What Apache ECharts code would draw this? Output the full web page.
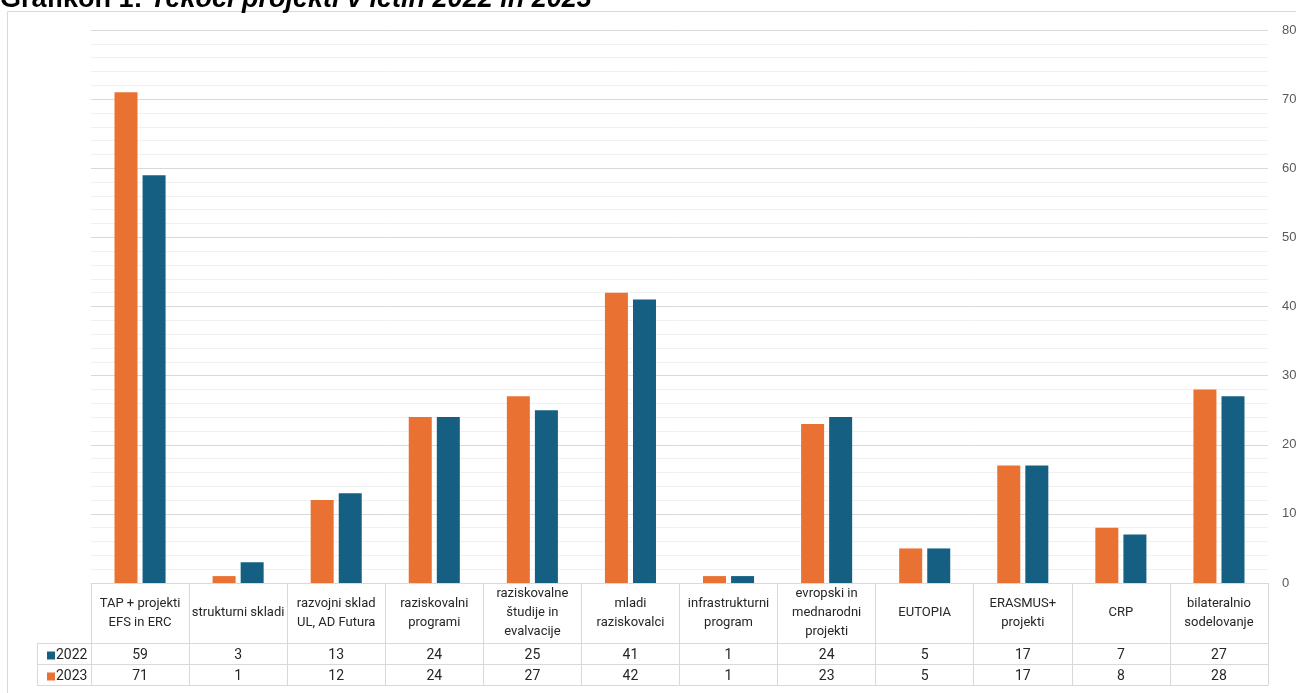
<!DOCTYPE html>
<html><head><meta charset="utf-8">
<script src="https://cdn.jsdelivr.net/npm/echarts@6/dist/echarts.min.js"></script>
<style>html,body{margin:0;padding:0;background:#fff}#c{width:1296px;height:693px}</style>
</head><body><div id="c"></div>
<script>
const categories = ["TAP + projekti\nEFS in ERC", "strukturni skladi", "razvojni sklad\nUL, AD Futura", "raziskovalni\nprogrami", "raziskovalne\nštudije in\nevalvacije", "mladi\nraziskovalci", "infrastrukturni\nprogram", "evropski in\nmednarodni\nprojekti", "EUTOPIA", "ERASMUS+\nprojekti", "CRP", "bilateralnio\nsodelovanje"];
const values2022 = [59, 3, 13, 24, 25, 41, 1, 24, 5, 17, 7, 27];
const values2023 = [71, 1, 12, 24, 27, 42, 1, 23, 5, 17, 8, 28];
const yTicks = [0, 10, 20, 30, 40, 50, 60, 70, 80];
const titleMain = "Grafikon 1: ";
const titleRest = "Tekoči projekti v letih 2022 in 2023";

const NARROW = "'Liberation Sans Narrow', 'Arial Narrow', 'Roboto', sans-serif";
const GRID = {left: 91, right: 28, top: 30, bottom: 110, containLabel: false, outerBoundsMode: 'none'};
const tableH = 102, headH = 60, rowH = 21;
const lineC = '#d9d9d9';
const chart = echarts.init(document.getElementById('c'), null, {renderer: 'canvas'});

function rowAxis(offset, vals, showLabel) {
  return {
    type: 'category', gridIndex: 0, position: 'bottom', offset: offset,
    data: categories,
    axisLine: {show: true, lineStyle: {color: lineC, width: 1}},
    axisTick: {show: false},
    axisLabel: {show: showLabel, interval: 0, margin: rowH / 2 + 1.5, verticalAlign: 'middle',
      fontFamily: NARROW, fontSize: 14, color: '#262626',
      formatter: (v, i) => vals ? String(vals[i]) : ''},
    splitLine: {show: false}
  };
}

const bottomY = 693 - GRID.bottom;
chart.setOption({
  animation: false,
  grid: GRID,
  legend: {
    data: ['2022', '2023'], orient: 'vertical', left: 42, top: bottomY + headH + 0,
    itemWidth: 8, itemHeight: 8, itemGap: 6, icon: 'rect',
    textStyle: {fontFamily: NARROW, fontSize: 14, color: '#262626', padding: [0, 0, 0, -4], lineHeight: 15},
    selectedMode: false
  },
  xAxis: [
    {
      type: 'category', gridIndex: 0, position: 'bottom', data: categories,
      axisLine: {show: true, lineStyle: {color: lineC, width: 1}},
      axisTick: {show: true, interval: 0, length: tableH, lineStyle: {color: lineC}},
      axisLabel: {interval: 0, margin: headH / 2, verticalAlign: 'middle', align: 'center',
        fontFamily: NARROW, fontSize: 13, lineHeight: 19, color: '#262626'},
      splitLine: {show: false}
    },
    rowAxis(headH, values2022, true),
    rowAxis(headH + rowH, values2023, true),
    rowAxis(headH + 2 * rowH, null, false)
  ],
  yAxis: {
    type: 'value', position: 'right', min: yTicks[0], max: yTicks[yTicks.length - 1], interval: 10,
    axisLine: {show: false}, axisTick: {show: false},
    axisLabel: {margin: 14, color: '#595959', fontSize: 13, fontFamily: "'Liberation Sans', Arial, sans-serif"},
    splitLine: {show: true, lineStyle: {color: '#d9d9d9', width: 1}},
    minorTick: {show: false, splitNumber: 5},
    minorSplitLine: {show: true, lineStyle: {color: '#f0f0f0', width: 1}}
  },
  series: [
    {name: '2023', type: 'bar', data: values2023, barWidth: 23, barGap: '22%',
     itemStyle: {color: '#E97132'}},
    {name: '2022', type: 'bar', data: values2022, barWidth: 23, barGap: '22%',
     itemStyle: {color: '#156082'}}
  ],
  graphic: [
    {type: 'rect', z: -10, silent: true, shape: {x: 7.5, y: 11.5, width: 1400, height: 800},
     style: {fill: 'none', stroke: lineC, lineWidth: 1}},
    {type: 'line', silent: true, shape: {x1: 37, y1: bottomY + headH + 0.5, x2: GRID.left, y2: bottomY + headH + 0.5}, style: {stroke: lineC}},
    {type: 'line', silent: true, shape: {x1: 37, y1: bottomY + headH + rowH + 0.5, x2: GRID.left, y2: bottomY + headH + rowH + 0.5}, style: {stroke: lineC}},
    {type: 'line', silent: true, shape: {x1: 37, y1: bottomY + tableH + 0.5, x2: GRID.left, y2: bottomY + tableH + 0.5}, style: {stroke: lineC}},
    {type: 'line', silent: true, shape: {x1: 37.5, y1: bottomY + headH, x2: 37.5, y2: bottomY + tableH}, style: {stroke: lineC}},
    {type: 'text', silent: true, x: 0, y: 13, z: 20,
     style: {text: '{a|' + titleMain + '}{b|' + titleRest + '}', verticalAlign: 'bottom',
       rich: {a: {fontFamily: "'Liberation Sans', Arial, sans-serif", fontSize: 27, fontWeight: 'bold', fill: '#000'},
              b: {fontFamily: "'Liberation Sans', Arial, sans-serif", fontSize: 27, fontWeight: 'bold', fontStyle: 'italic', fill: '#000'}}}}
  ]
});
</script></body></html>
